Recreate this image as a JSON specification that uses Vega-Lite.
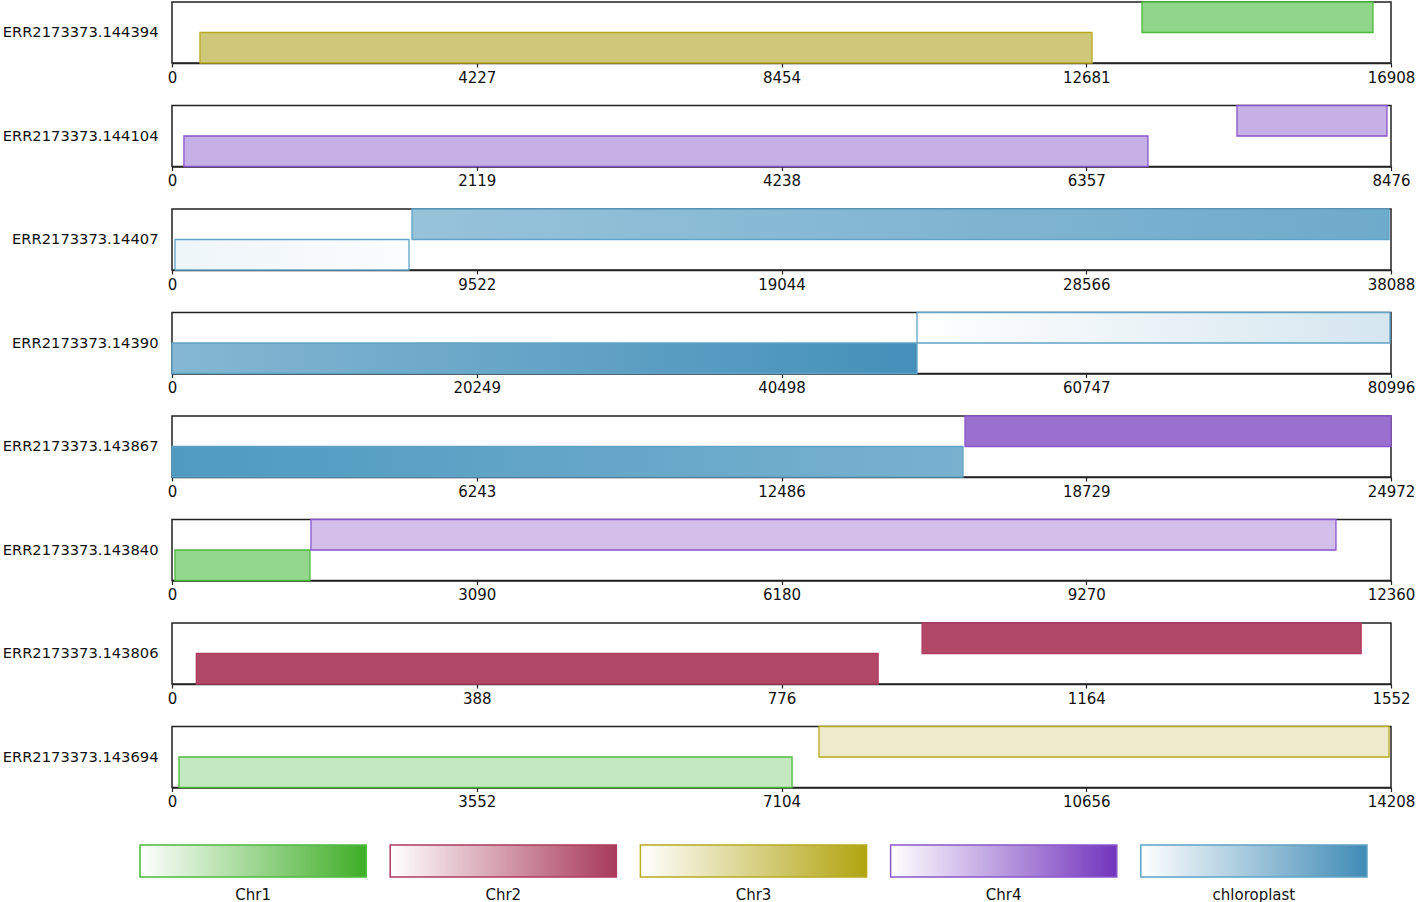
{
  "$schema": "https://vega.github.io/schema/vega-lite/v6.json",
  "background": "white",
  "padding": {"left": 1, "top": 0, "right": 1, "bottom": 0},
  "spacing": 17.5,
  "datasets": {
    "aln": [
      {"read": "ERR2173373.144394", "id": "p1a", "lane": "1", "chrom": "Chr3", "start": 388, "end": 12761},
      {"read": "ERR2173373.144394", "id": "p1b", "lane": "2", "chrom": "Chr1", "start": 13454, "end": 16658},
      {"read": "ERR2173373.144104", "id": "p2a", "lane": "1", "chrom": "Chr4", "start": 83, "end": 6786},
      {"read": "ERR2173373.144104", "id": "p2b", "lane": "2", "chrom": "Chr4", "start": 7405, "end": 8448},
      {"read": "ERR2173373.14407", "id": "p3a", "lane": "1", "chrom": "chloroplast", "start": 94, "end": 7405},
      {"read": "ERR2173373.14407", "id": "p3b", "lane": "2", "chrom": "chloroplast", "start": 7499, "end": 38026},
      {"read": "ERR2173373.14390", "id": "p4a", "lane": "1", "chrom": "chloroplast", "start": 0, "end": 49502},
      {"read": "ERR2173373.14390", "id": "p4b", "lane": "2", "chrom": "chloroplast", "start": 49502, "end": 80930},
      {"read": "ERR2173373.143867", "id": "p5a", "lane": "1", "chrom": "chloroplast", "start": 0, "end": 16204},
      {"read": "ERR2173373.143867", "id": "p5b", "lane": "2", "chrom": "Chr4", "start": 16245, "end": 24972},
      {"read": "ERR2173373.143840", "id": "p6a", "lane": "1", "chrom": "Chr1", "start": 30, "end": 1399},
      {"read": "ERR2173373.143840", "id": "p6b", "lane": "2", "chrom": "Chr4", "start": 1409, "end": 11802},
      {"read": "ERR2173373.143806", "id": "p7a", "lane": "1", "chrom": "Chr2", "start": 31, "end": 899},
      {"read": "ERR2173373.143806", "id": "p7b", "lane": "2", "chrom": "Chr2", "start": 955, "end": 1514},
      {"read": "ERR2173373.143694", "id": "p8a", "lane": "1", "chrom": "Chr1", "start": 82, "end": 7227},
      {"read": "ERR2173373.143694", "id": "p8b", "lane": "2", "chrom": "Chr3", "start": 7541, "end": 14185}
    ],
    "legend": [
      {"chrom": "Chr1"}, {"chrom": "Chr2"}, {"chrom": "Chr3"}, {"chrom": "Chr4"}, {"chrom": "chloroplast"}
    ]
  },
  "vconcat": [
    {
      "data": {"name": "aln"}, "width": 1219, "height": 61,
      "transform": [{"filter": "datum.read === 'ERR2173373.144394'"}],
      "mark": {"type": "bar", "strokeWidth": 1.3},
      "encoding": {
        "x": {"field": "start", "type": "quantitative", "scale": {"domain": [0, 16908], "nice": false, "zero": false}, "axis": {"values": [0, 4227, 8454, 12681, 16908]}},
        "x2": {"field": "end"},
        "y": {"field": "lane", "type": "nominal", "scale": {"domain": ["2", "1"], "paddingInner": 0, "paddingOuter": 0}, "axis": {"title": "ERR2173373.144394"}},
        "fill": {"field": "id", "type": "nominal", "legend": null,
          "scale": {"domain": ["p1a","p1b","p2a","p2b","p3a","p3b","p4a","p4b","p5a","p5b","p6a","p6b","p7a","p7b","p8a","p8b"],
                    "range": ["#cfc87b","#8fd68a","#c6b0e6","#c6b0e6","#f4f9fb","#82b7d3","#65a4c6","#eaf3f7","#64a6c8","#9a70cf","#93d78c","#d3bfe9","#b24867","#b24867","#c4e8c0","#eeeacc"]}},
        "stroke": {"field": "chrom", "type": "nominal", "legend": null, "scale": {"domain": ["Chr1", "Chr2", "Chr3", "Chr4", "chloroplast"], "range": ["#4cbb3c", "#b03a60", "#b8aa1e", "#8a55cc", "#5fa3c8"]}}
      }
    },
    {
      "data": {"name": "aln"}, "width": 1219, "height": 61,
      "transform": [{"filter": "datum.read === 'ERR2173373.144104'"}],
      "mark": {"type": "bar", "strokeWidth": 1.3},
      "encoding": {
        "x": {"field": "start", "type": "quantitative", "scale": {"domain": [0, 8476], "nice": false, "zero": false}, "axis": {"values": [0, 2119, 4238, 6357, 8476]}},
        "x2": {"field": "end"},
        "y": {"field": "lane", "type": "nominal", "scale": {"domain": ["2", "1"], "paddingInner": 0, "paddingOuter": 0}, "axis": {"title": "ERR2173373.144104"}},
        "fill": {"field": "id", "type": "nominal", "legend": null,
          "scale": {"domain": ["p1a","p1b","p2a","p2b","p3a","p3b","p4a","p4b","p5a","p5b","p6a","p6b","p7a","p7b","p8a","p8b"],
                    "range": ["#cfc87b","#8fd68a","#c6b0e6","#c6b0e6","#f4f9fb","#82b7d3","#65a4c6","#eaf3f7","#64a6c8","#9a70cf","#93d78c","#d3bfe9","#b24867","#b24867","#c4e8c0","#eeeacc"]}},
        "stroke": {"field": "chrom", "type": "nominal", "legend": null, "scale": {"domain": ["Chr1", "Chr2", "Chr3", "Chr4", "chloroplast"], "range": ["#4cbb3c", "#b03a60", "#b8aa1e", "#8a55cc", "#5fa3c8"]}}
      }
    },
    {
      "data": {"name": "aln"}, "width": 1219, "height": 61,
      "transform": [{"filter": "datum.read === 'ERR2173373.14407'"}],
      "mark": {"type": "bar", "strokeWidth": 1.3},
      "encoding": {
        "x": {"field": "start", "type": "quantitative", "scale": {"domain": [0, 38088], "nice": false, "zero": false}, "axis": {"values": [0, 9522, 19044, 28566, 38088]}},
        "x2": {"field": "end"},
        "y": {"field": "lane", "type": "nominal", "scale": {"domain": ["2", "1"], "paddingInner": 0, "paddingOuter": 0}, "axis": {"title": "ERR2173373.14407"}},
        "fill": {"field": "id", "type": "nominal", "legend": null,
          "scale": {"domain": ["p1a","p1b","p2a","p2b","p3a","p3b","p4a","p4b","p5a","p5b","p6a","p6b","p7a","p7b","p8a","p8b"],
                    "range": ["#cfc87b","#8fd68a","#c6b0e6","#c6b0e6","#f4f9fb","#82b7d3","#65a4c6","#eaf3f7","#64a6c8","#9a70cf","#93d78c","#d3bfe9","#b24867","#b24867","#c4e8c0","#eeeacc"]},
          "condition": [
            {"test": "datum.id === 'p3a'", "value": {"gradient": "linear", "stops": [{"offset": 0, "color": "#eef5f9"}, {"offset": 1, "color": "#fbfdfe"}]}},
            {"test": "datum.id === 'p3b'", "value": {"gradient": "linear", "stops": [{"offset": 0, "color": "#97c3da"}, {"offset": 1, "color": "#6eaacb"}]}}
          ]},
        "stroke": {"field": "chrom", "type": "nominal", "legend": null, "scale": {"domain": ["Chr1", "Chr2", "Chr3", "Chr4", "chloroplast"], "range": ["#4cbb3c", "#b03a60", "#b8aa1e", "#8a55cc", "#5fa3c8"]}}
      }
    },
    {
      "data": {"name": "aln"}, "width": 1219, "height": 61,
      "transform": [{"filter": "datum.read === 'ERR2173373.14390'"}],
      "mark": {"type": "bar", "strokeWidth": 1.3},
      "encoding": {
        "x": {"field": "start", "type": "quantitative", "scale": {"domain": [0, 80996], "nice": false, "zero": false}, "axis": {"values": [0, 20249, 40498, 60747, 80996]}},
        "x2": {"field": "end"},
        "y": {"field": "lane", "type": "nominal", "scale": {"domain": ["2", "1"], "paddingInner": 0, "paddingOuter": 0}, "axis": {"title": "ERR2173373.14390"}},
        "fill": {"field": "id", "type": "nominal", "legend": null,
          "scale": {"domain": ["p1a","p1b","p2a","p2b","p3a","p3b","p4a","p4b","p5a","p5b","p6a","p6b","p7a","p7b","p8a","p8b"],
                    "range": ["#cfc87b","#8fd68a","#c6b0e6","#c6b0e6","#f4f9fb","#82b7d3","#65a4c6","#eaf3f7","#64a6c8","#9a70cf","#93d78c","#d3bfe9","#b24867","#b24867","#c4e8c0","#eeeacc"]},
          "condition": [
            {"test": "datum.id === 'p4a'", "value": {"gradient": "linear", "stops": [{"offset": 0, "color": "#85b7d2"}, {"offset": 1, "color": "#4490ba"}]}},
            {"test": "datum.id === 'p4b'", "value": {"gradient": "linear", "stops": [{"offset": 0, "color": "#ffffff"}, {"offset": 1, "color": "#d5e6ef"}]}}
          ]},
        "stroke": {"field": "chrom", "type": "nominal", "legend": null, "scale": {"domain": ["Chr1", "Chr2", "Chr3", "Chr4", "chloroplast"], "range": ["#4cbb3c", "#b03a60", "#b8aa1e", "#8a55cc", "#5fa3c8"]}}
      }
    },
    {
      "data": {"name": "aln"}, "width": 1219, "height": 61,
      "transform": [{"filter": "datum.read === 'ERR2173373.143867'"}],
      "mark": {"type": "bar", "strokeWidth": 1.3},
      "encoding": {
        "x": {"field": "start", "type": "quantitative", "scale": {"domain": [0, 24972], "nice": false, "zero": false}, "axis": {"values": [0, 6243, 12486, 18729, 24972]}},
        "x2": {"field": "end"},
        "y": {"field": "lane", "type": "nominal", "scale": {"domain": ["2", "1"], "paddingInner": 0, "paddingOuter": 0}, "axis": {"title": "ERR2173373.143867"}},
        "fill": {"field": "id", "type": "nominal", "legend": null,
          "scale": {"domain": ["p1a","p1b","p2a","p2b","p3a","p3b","p4a","p4b","p5a","p5b","p6a","p6b","p7a","p7b","p8a","p8b"],
                    "range": ["#cfc87b","#8fd68a","#c6b0e6","#c6b0e6","#f4f9fb","#82b7d3","#65a4c6","#eaf3f7","#64a6c8","#9a70cf","#93d78c","#d3bfe9","#b24867","#b24867","#c4e8c0","#eeeacc"]},
          "condition": [
            {"test": "datum.id === 'p5a'", "value": {"gradient": "linear", "stops": [{"offset": 0, "color": "#4e9ac1"}, {"offset": 1, "color": "#79b1cf"}]}}
          ]},
        "stroke": {"field": "chrom", "type": "nominal", "legend": null, "scale": {"domain": ["Chr1", "Chr2", "Chr3", "Chr4", "chloroplast"], "range": ["#4cbb3c", "#b03a60", "#b8aa1e", "#8a55cc", "#5fa3c8"]}}
      }
    },
    {
      "data": {"name": "aln"}, "width": 1219, "height": 61,
      "transform": [{"filter": "datum.read === 'ERR2173373.143840'"}],
      "mark": {"type": "bar", "strokeWidth": 1.3},
      "encoding": {
        "x": {"field": "start", "type": "quantitative", "scale": {"domain": [0, 12360], "nice": false, "zero": false}, "axis": {"values": [0, 3090, 6180, 9270, 12360]}},
        "x2": {"field": "end"},
        "y": {"field": "lane", "type": "nominal", "scale": {"domain": ["2", "1"], "paddingInner": 0, "paddingOuter": 0}, "axis": {"title": "ERR2173373.143840"}},
        "fill": {"field": "id", "type": "nominal", "legend": null,
          "scale": {"domain": ["p1a","p1b","p2a","p2b","p3a","p3b","p4a","p4b","p5a","p5b","p6a","p6b","p7a","p7b","p8a","p8b"],
                    "range": ["#cfc87b","#8fd68a","#c6b0e6","#c6b0e6","#f4f9fb","#82b7d3","#65a4c6","#eaf3f7","#64a6c8","#9a70cf","#93d78c","#d3bfe9","#b24867","#b24867","#c4e8c0","#eeeacc"]}},
        "stroke": {"field": "chrom", "type": "nominal", "legend": null, "scale": {"domain": ["Chr1", "Chr2", "Chr3", "Chr4", "chloroplast"], "range": ["#4cbb3c", "#b03a60", "#b8aa1e", "#8a55cc", "#5fa3c8"]}}
      }
    },
    {
      "data": {"name": "aln"}, "width": 1219, "height": 61,
      "transform": [{"filter": "datum.read === 'ERR2173373.143806'"}],
      "mark": {"type": "bar", "strokeWidth": 1.3},
      "encoding": {
        "x": {"field": "start", "type": "quantitative", "scale": {"domain": [0, 1552], "nice": false, "zero": false}, "axis": {"values": [0, 388, 776, 1164, 1552]}},
        "x2": {"field": "end"},
        "y": {"field": "lane", "type": "nominal", "scale": {"domain": ["2", "1"], "paddingInner": 0, "paddingOuter": 0}, "axis": {"title": "ERR2173373.143806"}},
        "fill": {"field": "id", "type": "nominal", "legend": null,
          "scale": {"domain": ["p1a","p1b","p2a","p2b","p3a","p3b","p4a","p4b","p5a","p5b","p6a","p6b","p7a","p7b","p8a","p8b"],
                    "range": ["#cfc87b","#8fd68a","#c6b0e6","#c6b0e6","#f4f9fb","#82b7d3","#65a4c6","#eaf3f7","#64a6c8","#9a70cf","#93d78c","#d3bfe9","#b24867","#b24867","#c4e8c0","#eeeacc"]}},
        "stroke": {"field": "chrom", "type": "nominal", "legend": null, "scale": {"domain": ["Chr1", "Chr2", "Chr3", "Chr4", "chloroplast"], "range": ["#4cbb3c", "#b03a60", "#b8aa1e", "#8a55cc", "#5fa3c8"]}}
      }
    },
    {
      "data": {"name": "aln"}, "width": 1219, "height": 61,
      "transform": [{"filter": "datum.read === 'ERR2173373.143694'"}],
      "mark": {"type": "bar", "strokeWidth": 1.3},
      "encoding": {
        "x": {"field": "start", "type": "quantitative", "scale": {"domain": [0, 14208], "nice": false, "zero": false}, "axis": {"values": [0, 3552, 7104, 10656, 14208]}},
        "x2": {"field": "end"},
        "y": {"field": "lane", "type": "nominal", "scale": {"domain": ["2", "1"], "paddingInner": 0, "paddingOuter": 0}, "axis": {"title": "ERR2173373.143694"}},
        "fill": {"field": "id", "type": "nominal", "legend": null,
          "scale": {"domain": ["p1a","p1b","p2a","p2b","p3a","p3b","p4a","p4b","p5a","p5b","p6a","p6b","p7a","p7b","p8a","p8b"],
                    "range": ["#cfc87b","#8fd68a","#c6b0e6","#c6b0e6","#f4f9fb","#82b7d3","#65a4c6","#eaf3f7","#64a6c8","#9a70cf","#93d78c","#d3bfe9","#b24867","#b24867","#c4e8c0","#eeeacc"]}},
        "stroke": {"field": "chrom", "type": "nominal", "legend": null, "scale": {"domain": ["Chr1", "Chr2", "Chr3", "Chr4", "chloroplast"], "range": ["#4cbb3c", "#b03a60", "#b8aa1e", "#8a55cc", "#5fa3c8"]}}
      }
    },
    {
      "data": {"name": "legend"}, "width": 1219, "height": 49,
      "view": {"stroke": null},
      "mark": {"type": "bar", "strokeWidth": 1.5},
      "encoding": {
        "x": {"field": "chrom", "type": "nominal", "sort": null,
          "scale": {"domain": ["Chr1", "Chr2", "Chr3", "Chr4", "chloroplast"], "range": [-32, 1195], "paddingInner": 0.096, "paddingOuter": 0},
          "axis": {"domain": false, "ticks": false, "labelPadding": 10, "labelAngle": 0, "labelExpr": "datum.value"}},
        "y": {"datum": "legend", "type": "nominal", "scale": {"range": [17, 49], "paddingInner": 0, "paddingOuter": 0}, "axis": null},
        "fill": {
          "condition": [
            {"test": "datum.chrom === 'Chr1'", "value": {"gradient": "linear", "stops": [{"offset": 0, "color": "#ffffff"}, {"offset": 1, "color": "#3fae27"}]}},
            {"test": "datum.chrom === 'Chr2'", "value": {"gradient": "linear", "stops": [{"offset": 0, "color": "#ffffff"}, {"offset": 1, "color": "#a8395c"}]}},
            {"test": "datum.chrom === 'Chr3'", "value": {"gradient": "linear", "stops": [{"offset": 0, "color": "#ffffff"}, {"offset": 1, "color": "#b1a40f"}]}},
            {"test": "datum.chrom === 'Chr4'", "value": {"gradient": "linear", "stops": [{"offset": 0, "color": "#ffffff"}, {"offset": 1, "color": "#7234be"}]}}
          ],
          "value": {"gradient": "linear", "stops": [{"offset": 0, "color": "#ffffff"}, {"offset": 1, "color": "#408bb6"}]}
        },
        "stroke": {"field": "chrom", "type": "nominal", "legend": null, "scale": {"domain": ["Chr1", "Chr2", "Chr3", "Chr4", "chloroplast"], "range": ["#4cbb3c", "#b03a60", "#b8aa1e", "#8a55cc", "#5fa3c8"]}}
      }
    }
  ],
  "config": {
    "view": {"stroke": "#222222", "strokeWidth": 1.5},
    "font": "DejaVu Sans",
    "axisX": {"title": null, "grid": false, "format": "d", "domainColor": "#222222", "domainWidth": 1.5, "tickColor": "#222222", "tickWidth": 1.2, "tickSize": 4, "labelFont": "DejaVu Sans", "labelFontSize": 15, "labelColor": "#111111", "labelFlush": false, "labelOverlap": false, "labelPadding": 3},
    "axisY": {"labels": false, "ticks": false, "domain": false, "grid": false, "titleAngle": 0, "titleAlign": "right", "titleBaseline": "middle", "titleX": -14, "titleY": 30.5, "titleFont": "DejaVu Sans", "titleFontSize": 14.7, "titleFontWeight": "normal", "titleColor": "#111111"}
  }
}
